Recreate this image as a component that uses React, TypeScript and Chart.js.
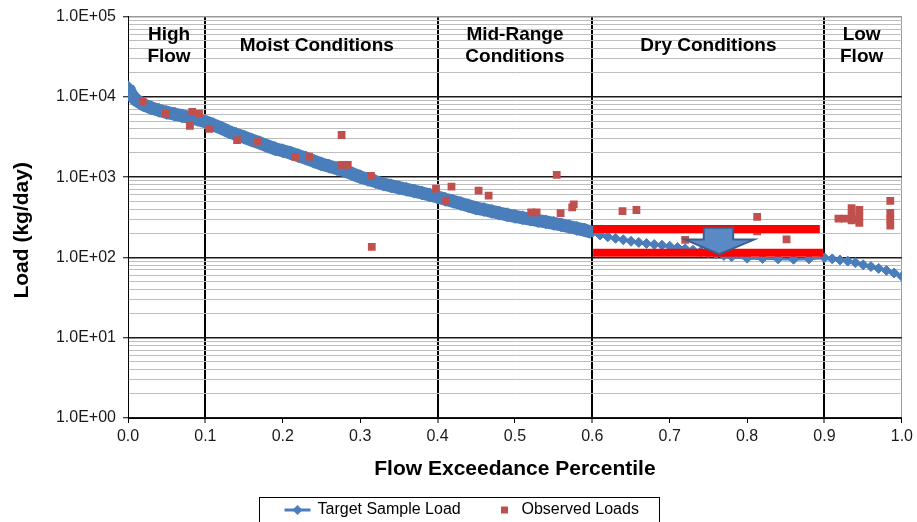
import React, { useEffect, useRef } from "react";
import { Chart, registerables } from "chart.js";

Chart.register(...registerables);

// ---------- data ----------
const targetPercentile = [
  0.0, 0.005, 0.01, 0.02, 0.03, 0.04, 0.05, 0.06, 0.07, 0.08, 0.09,
  0.1, 0.11, 0.12, 0.13, 0.14, 0.15, 0.16, 0.17, 0.18, 0.19,
  0.2, 0.21, 0.22, 0.23, 0.24, 0.25, 0.26, 0.27, 0.28, 0.29,
  0.3, 0.31, 0.32, 0.33, 0.34, 0.35, 0.36, 0.37, 0.38, 0.39,
  0.4, 0.41, 0.42, 0.43, 0.44, 0.45, 0.46, 0.47, 0.48, 0.49,
  0.5, 0.51, 0.52, 0.53, 0.54, 0.55, 0.56, 0.57, 0.58, 0.59,
  0.6, 0.61, 0.62, 0.63, 0.64, 0.65, 0.66, 0.67, 0.68, 0.69,
  0.7, 0.71, 0.72, 0.73, 0.74, 0.75, 0.76, 0.77, 0.78,
  0.8, 0.82, 0.84, 0.86, 0.88,
  0.9, 0.91, 0.92, 0.93, 0.94, 0.95, 0.96, 0.97, 0.98, 0.99, 1.0,
];
const targetLoad = [
  13000, 10500, 9200, 8000, 7300, 6800, 6400, 6100, 5800, 5550, 5250,
  4900, 4500, 4100, 3700, 3400, 3150, 2900, 2680, 2450, 2260,
  2130, 2000, 1850, 1720, 1580, 1460, 1370, 1280, 1200, 1100,
  1010, 940, 880, 820, 780, 740, 705, 670, 635, 600,
  565, 530, 500, 470, 440, 412, 395, 375, 356, 340,
  325, 312, 300, 288, 277, 266, 254, 242, 230, 219,
  205, 190, 181, 173, 166, 159, 154, 149, 145, 142,
  138, 133, 128, 123, 118, 114, 110, 106, 102,
  98, 97, 96, 95, 96,
  99, 96, 93, 90, 86, 81, 77, 73, 69, 64, 58,
];

const observedPercentile = [
  0.019, 0.049, 0.08, 0.083, 0.092, 0.105, 0.141, 0.168, 0.216, 0.234,
  0.276, 0.276, 0.284, 0.314, 0.315, 0.398, 0.411, 0.418, 0.453, 0.466,
  0.521, 0.528, 0.554, 0.559, 0.574, 0.576, 0.639, 0.657, 0.72, 0.813,
  0.813, 0.851, 0.918, 0.926, 0.935, 0.935, 0.935, 0.94, 0.945, 0.945,
  0.945, 0.985, 0.985, 0.985, 0.985,
];
const observedLoad = [
  8700, 6200, 4350, 6500, 6200, 4000, 2900, 2800, 1790, 1800,
  3350, 1420, 1420, 1040, 135, 720, 510, 760, 680, 590,
  365, 365, 1070, 356, 421, 458, 378, 390, 165, 321,
  212, 168, 305, 305, 410, 330, 290, 300, 390, 320,
  270, 505, 360, 300, 250,
];

const seriesNames = ["Target Sample Load", "Observed Loads"];

const regionBoundaries = [0.1, 0.4, 0.6, 0.9];
const regionNames = [
  ["High", "Flow"],
  ["Moist Conditions"],
  ["Mid-Range", "Conditions"],
  ["Dry Conditions"],
  ["Low", "Flow"],
];
const regionCenters = [0.053, 0.244, 0.5, 0.75, 0.948];

// red target band lines (percentile range, loads)
const bandPercentileTop = [0.601, 0.894];
const bandPercentileBottom = [0.601, 0.898];
const bandLoads = [226, 114];

// reduction arrow: head-left, shaft-left, tip, shaft-right, head-right
const arrowPercentile = [0.72, 0.744, 0.764, 0.782, 0.809];
// shaft top, head base, tip
const arrowLoad = [234, 167, 110];

const xTickValues = [0, 0.1, 0.2, 0.3, 0.4, 0.5, 0.6, 0.7, 0.8, 0.9, 1.0];
const xTickLabels = ["0.0", "0.1", "0.2", "0.3", "0.4", "0.5", "0.6", "0.7", "0.8", "0.9", "1.0"];
const yDecades = [1, 10, 100, 1000, 10000, 100000];
const yTickLabels = ["1.0E+00", "1.0E+01", "1.0E+02", "1.0E+03", "1.0E+04", "1.0E+05"];
const yMinorMultipliers = [2, 3, 4, 5, 6, 7, 8, 9];

const xTitle = "Flow Exceedance Percentile";
const yTitle = "Load (kg/day)";

// ---------- styles ----------
const FONT = '"Liberation Sans", Arial, sans-serif';
const BLUE = "#4a7ebb";
const RED_PT = "#c0504d";

const near = (a: number, b: number) => Math.abs(a - b) < 1e-6;
const isDecade = (v: number) => yDecades.some((d) => Math.abs(v - d) / d < 1e-6);

const overlayPlugin = {
  id: "overlay",
  afterDatasetsDraw(chart: any) {
    const { ctx, chartArea, scales } = chart;
    const x = scales.x;
    const y = scales.y;
    ctx.save();
    // arrow
    const px = arrowPercentile.map((v) => x.getPixelForValue(v));
    const py = arrowLoad.map((v) => y.getPixelForValue(v));
    ctx.beginPath();
    ctx.moveTo(px[1], py[0]);
    ctx.lineTo(px[3], py[0]);
    ctx.lineTo(px[3], py[1]);
    ctx.lineTo(px[4], py[1]);
    ctx.lineTo(px[2], py[2]);
    ctx.lineTo(px[0], py[1]);
    ctx.lineTo(px[1], py[1]);
    ctx.closePath();
    ctx.fillStyle = "#5a8ac6";
    ctx.fill();
    ctx.lineWidth = 2;
    ctx.strokeStyle = "#3a5f8f";
    ctx.stroke();

    // region labels
    ctx.font = `bold 19px ${FONT}`;
    ctx.fillStyle = "#000";
    ctx.textAlign = "center";
    ctx.textBaseline = "middle";
    const lh = 21.5;
    regionNames.forEach((lines, i) => {
      const cx = x.getPixelForValue(regionCenters[i]);
      const cy = chartArea.top + 29;
      lines.forEach((t, j) => {
        ctx.fillText(t, cx, cy + (j - (lines.length - 1) / 2) * lh);
      });
    });
    ctx.restore();
  },
  afterDraw(chart: any) {
    const { ctx, chartArea, width } = chart;
    ctx.save();
    // y title
    ctx.font = `bold 21px ${FONT}`;
    ctx.fillStyle = "#000";
    ctx.textAlign = "center";
    ctx.textBaseline = "middle";
    ctx.translate(22, (chartArea.top + chartArea.bottom) / 2 + 13);
    ctx.rotate(-Math.PI / 2);
    ctx.fillText(yTitle, 0, 0);
    ctx.restore();

    // legend
    ctx.save();
    const boxW = 400;
    const L = Math.round(width / 2 - boxW / 2) + 0.5;
    const T = 497.5;
    ctx.strokeStyle = "#000";
    ctx.lineWidth = 1;
    ctx.strokeRect(L, T, boxW, 60);
    const cy = 510;
    ctx.strokeStyle = BLUE;
    ctx.lineWidth = 3;
    ctx.beginPath();
    ctx.moveTo(L + 25, cy);
    ctx.lineTo(L + 51, cy);
    ctx.stroke();
    ctx.fillStyle = BLUE;
    ctx.beginPath();
    ctx.moveTo(L + 38, cy - 5);
    ctx.lineTo(L + 43, cy);
    ctx.lineTo(L + 38, cy + 5);
    ctx.lineTo(L + 33, cy);
    ctx.closePath();
    ctx.fill();
    ctx.fillStyle = RED_PT;
    ctx.fillRect(L + 241.5, cy - 3.5, 7, 7);
    ctx.font = `16px ${FONT}`;
    ctx.fillStyle = "#000";
    ctx.textAlign = "left";
    ctx.textBaseline = "middle";
    ctx.fillText(chart.data.datasets[0].label, L + 58, cy);
    ctx.fillText(chart.data.datasets[1].label, L + 262, cy);
    ctx.restore();
  },
};

export default function App() {
  const ref = useRef<HTMLCanvasElement | null>(null);
  useEffect(() => {
    if (!ref.current) return;
    const targetData = targetPercentile.map((p, i) => ({ x: p, y: targetLoad[i] }));
    const observedData = observedPercentile.map((p, i) => ({ x: p, y: observedLoad[i] }));
    const yTicks: number[] = [];
    yDecades.forEach((d, i) => {
      yTicks.push(d);
      if (i < yDecades.length - 1) yMinorMultipliers.forEach((m) => yTicks.push(m * d));
    });

    const chart = new Chart(ref.current, {
      type: "scatter",
      data: {
        datasets: [
          {
            label: seriesNames[0],
            data: targetData,
            showLine: true,
            borderColor: BLUE,
            backgroundColor: BLUE,
            pointStyle: "rectRot",
            pointRadius: (c: any) => (c.raw && c.raw.x < 0.6 ? 7 : 5),
            pointBorderWidth: 1,
            pointBorderColor: BLUE,
            borderWidth: 3,
            segment: {
              borderWidth: (c: any) => (c.p0.parsed.x < 0.595 ? 13 : 3),
            },
            order: 3,
          } as any,
          {
            label: seriesNames[1],
            data: observedData,
            showLine: false,
            pointStyle: "rect",
            pointRadius: 5.5,
            pointBorderWidth: 0,
            backgroundColor: RED_PT,
            borderColor: RED_PT,
            order: 2,
          },
          {
            label: "band-top",
            data: bandPercentileTop.map((p) => ({ x: p, y: bandLoads[0] })),
            showLine: true,
            borderColor: "#ff0000",
            borderWidth: 8,
            borderCapStyle: "butt",
            pointRadius: 0,
            order: 1,
          } as any,
          {
            label: "band-bottom",
            data: bandPercentileBottom.map((p) => ({ x: p, y: bandLoads[1] })),
            showLine: true,
            borderColor: "#ff0000",
            borderWidth: 8,
            borderCapStyle: "butt",
            pointRadius: 0,
            order: 1,
          } as any,
        ],
      },
      options: {
        responsive: false,
        animation: false,
        events: [],
        devicePixelRatio: 1,
        layout: { padding: { top: 16.5, right: 11, left: 0, bottom: 0 } },
        plugins: {
          legend: { display: false },
          tooltip: { enabled: false },
        },
        scales: {
          x: {
            type: "linear",
            min: 0,
            max: 1,
            afterBuildTicks: (s: any) => {
              s.ticks = xTickValues.map((v) => ({ value: v }));
            },
            afterFit: (s: any) => {
              s.height = 104;
            },
            ticks: {
              autoSkip: false,
              maxRotation: 0,
              padding: 4,
              color: "#1a1a1a",
              font: { family: FONT, size: 16 },
              callback: (v: any) => {
                const i = xTickValues.findIndex((t) => near(t, Number(v)));
                return i >= 0 ? xTickLabels[i] : "";
              },
            },
            grid: {
              drawOnChartArea: true,
              tickLength: 5,
              tickWidth: 1,
              tickColor: "#000",
              color: (c: any) => {
                const v = c.tick ? c.tick.value : -1;
                if (regionBoundaries.some((b) => near(b, v))) return "#000";
                if (near(v, 1)) return "#9a9a9a";
                return "rgba(0,0,0,0)";
              },
              lineWidth: (c: any) => {
                const v = c.tick ? c.tick.value : -1;
                if (regionBoundaries.some((b) => near(b, v))) return 2;
                return 1;
              },
            },
            border: { display: true, color: "#000", width: 1 },
            title: {
              display: true,
              text: xTitle,
              color: "#000",
              font: { family: FONT, size: 21, weight: "bold" },
              padding: { top: 0, bottom: 40 },
            },
          },
          y: {
            type: "logarithmic",
            min: 1,
            max: 100000,
            afterBuildTicks: (s: any) => {
              s.ticks = yTicks.map((v) => ({ value: v, major: isDecade(v) }));
            },
            afterFit: (s: any) => {
              s.width = 128;
            },
            ticks: {
              autoSkip: false,
              padding: 7,
              color: "#1a1a1a",
              font: { family: FONT, size: 16 },
              callback: (v: any) => {
                const i = yDecades.findIndex((d) => Math.abs(Number(v) - d) / d < 1e-6);
                return i >= 0 ? yTickLabels[i] : "";
              },
            },
            grid: {
              tickLength: 5,
              tickWidth: 1,
              tickColor: (c: any) => (c.tick && isDecade(c.tick.value) ? "#000" : "rgba(0,0,0,0)"),
              color: (c: any) => {
                const v = c.tick ? c.tick.value : 0;
                if (Math.abs(v - 100000) < 1e-3) return "#999";
                return isDecade(v) ? "#1a1a1a" : "#bdbdbd";
              },
              lineWidth: (c: any) => {
                const v = c.tick ? c.tick.value : 0;
                return isDecade(v) ? 1.5 : 1;
              },
            },
            border: { display: true, color: "#000", width: 1 },
            title: { display: false },
          },
        },
      },
      plugins: [overlayPlugin],
    } as any);
    return () => chart.destroy();
  }, []);

  return (
    <div style={{ position: "absolute", left: 0, top: 0, width: 917, height: 522, background: "#fff" }}>
      <canvas ref={ref} width={917} height={522} style={{ display: "block" }} />
    </div>
  );
}
